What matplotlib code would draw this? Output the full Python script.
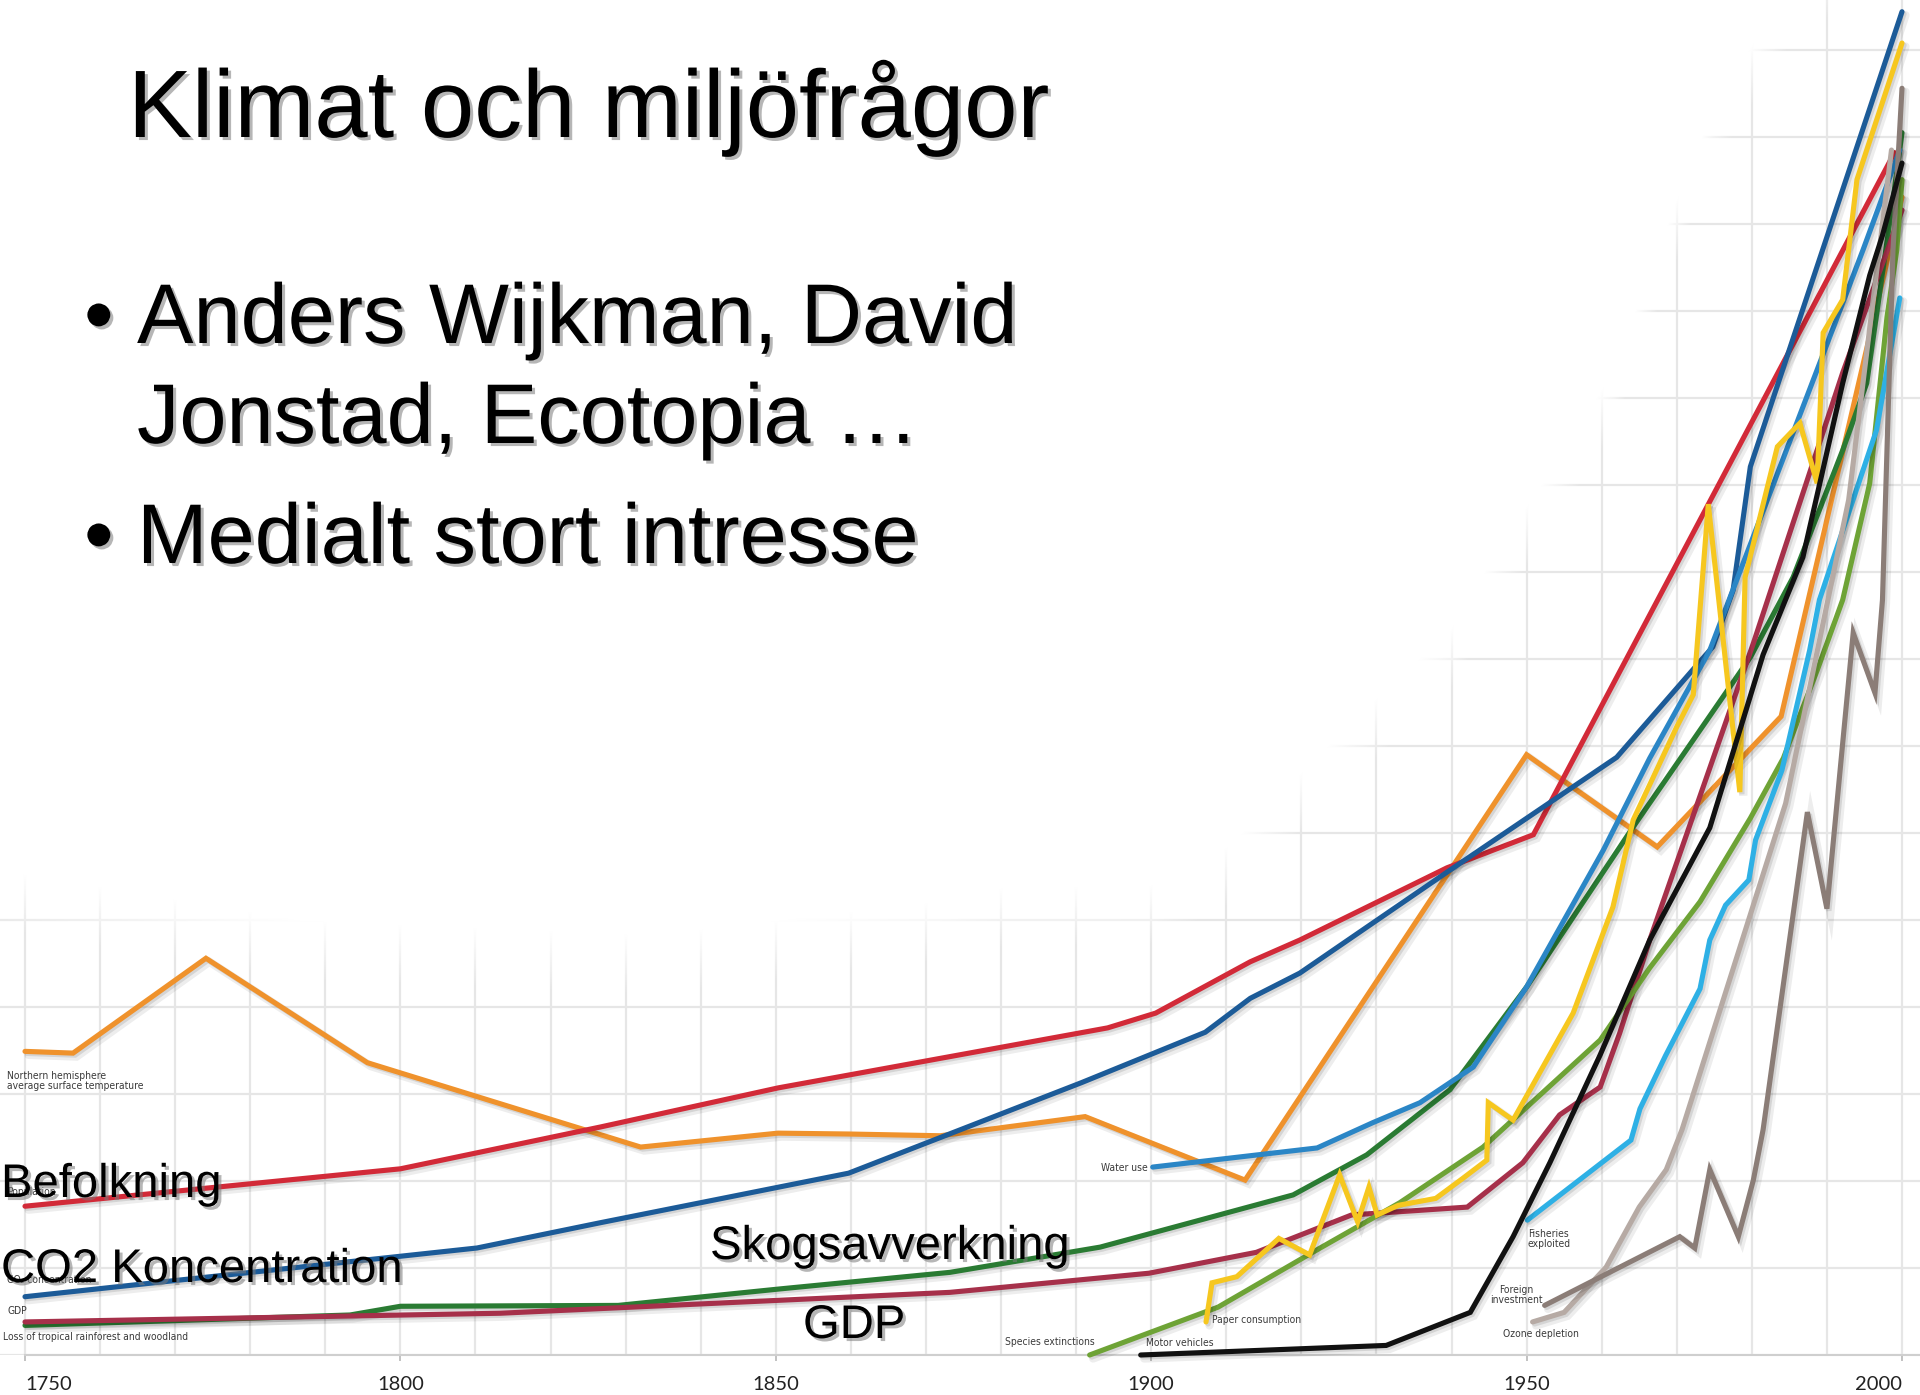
import os
import numpy as np
import matplotlib
matplotlib.use("Agg")
import matplotlib.pyplot as plt
import matplotlib.patheffects as pe
from matplotlib import font_manager as fm

# ---------------- data (year, index value) ----------------
temp_years = [1750, 1756.4, 1774.1, 1795.6, 1832.0, 1850.3, 1859.7, 1871.9, 1891.2, 1912.5, 1950.0, 1967.4, 1983.9, 2000.0]
temp_vals = [34.9, 34.7, 45.6, 33.6, 23.9, 25.5, 25.4, 25.2, 27.4, 20.1, 69.0, 58.4, 73.4, 133.1]

pop_years = [1750, 1800, 1826.6, 1850.3, 1894.2, 1900.6, 1913.2, 1919.8, 1939.4, 1950.9, 1999.0]
pop_vals = [17.1, 21.4, 26.2, 30.7, 37.6, 39.3, 45.2, 47.7, 56.0, 59.8, 138.2]

co2_years = [1750, 1810.2, 1826.6, 1859.7, 1890.7, 1907.2, 1913.2, 1919.8, 1939.4, 1962.0, 1974.8, 1977.5, 1979.8, 2000.0]
co2_vals = [6.7, 12.3, 15.2, 20.9, 31.3, 37.1, 41.0, 43.9, 55.5, 68.7, 81.4, 87.9, 102.1, 154.4]

forest_years = [1750, 1793.3, 1800, 1829.0, 1850.6, 1873.2, 1893.2, 1918.9, 1928.7, 1939.8, 1950.0, 1964.2, 1979.8, 1985.5, 1992.1, 1995.3, 1998.8, 2000.0]
forest_vals = [3.4, 4.6, 5.6, 5.7, 7.6, 9.5, 12.4, 18.4, 23.0, 30.5, 42.3, 60.7, 80.2, 89.4, 104.0, 111.7, 132.8, 140.5]

gdp_years = [1750, 1813.3, 1873.2, 1899.7, 1914.0, 1926.7, 1942.1, 1949.5, 1954.4, 1959.8, 1962.4, 1966.4, 1980.2, 1992.1, 2000.0]
gdp_vals = [3.8, 4.8, 7.2, 9.4, 11.8, 16.1, 17.0, 22.1, 27.6, 30.8, 37.0, 47.7, 81.8, 112.9, 131.6]

water_years = [1900.2, 1922.1, 1929.5, 1935.8, 1942.9, 1950.0, 1960.2, 1966.4, 1974.4, 1994.8, 1999.7]
water_vals = [21.6, 23.8, 26.7, 29.0, 33.1, 42.3, 58.0, 68.6, 81.0, 127.0, 138.5]

paper_years = [1907.3, 1908.1, 1911.4, 1917.0, 1921.1, 1925.1, 1927.5, 1929.0, 1930.1, 1932.9, 1937.9, 1941.5,
               1944.7, 1944.9, 1948.2, 1956.2, 1961.5, 1964.2, 1970.0, 1972.2, 1974.2, 1978.4, 1979.1, 1983.4,
               1986.4, 1988.7, 1989.5, 1992.1, 1994.0, 2000.0]
paper_vals = [3.8, 8.3, 9.0, 13.4, 11.5, 20.7, 15.3, 19.3, 16.1, 17.2, 18.0, 20.3,
              22.4, 29.0, 27.0, 39.3, 51.5, 61.5, 72.2, 75.9, 97.8, 64.7, 89.4, 104.4,
              107.1, 100.2, 117.5, 121.3, 135.1, 150.8]

species_years = [1891.8, 1908.9, 1922.1, 1933.1, 1944.2, 1959.8, 1966.4, 1973.1, 1979.8, 1984.2, 1988.7, 1992.1, 1995.7, 1998.0, 1999.3, 2000.0]
species_vals = [0.0, 5.5, 12.1, 17.5, 23.9, 36.2, 44.5, 52.1, 61.7, 68.6, 78.7, 86.8, 100.2, 119.3, 127.0, 135.1]

motor_years = [1898.6, 1931.3, 1942.5, 1948.2, 1953.1, 1959.8, 1966.4, 1974.4, 1981.5, 1986.8, 1992.1, 1995.7, 1997.4, 2000.0]
motor_vals = [0.0, 1.1, 4.9, 13.6, 22.1, 34.5, 47.7, 60.6, 80.5, 91.7, 111.7, 124.1, 128.7, 137.0]

fish_years = [1950.1, 1963.9, 1965.1, 1968.5, 1973.1, 1974.4, 1976.5, 1979.6, 1980.5, 1984.0, 1987.7, 1989.0, 1996.6, 1999.7]
fish_vals = [15.5, 24.7, 28.3, 34.4, 42.1, 47.7, 51.7, 54.6, 59.2, 67.2, 81.0, 86.8, 106.3, 121.5]

ozone_years = [1950.8, 1955.0, 1960.6, 1965.0, 1968.6, 1970.7, 1984.5, 1992.9, 1998.6]
ozone_vals = [3.8, 4.9, 10.1, 17.0, 21.3, 25.9, 63.4, 98.3, 138.5]

invest_years = [1952.4, 1970.4, 1972.4, 1974.4, 1978.2, 1980.2, 1981.5, 1987.4, 1990.0, 1993.5, 1996.4, 1997.4, 1998.8, 2000.0]
invest_vals = [5.7, 13.6, 12.3, 21.3, 13.6, 20.1, 25.9, 62.4, 51.3, 83.0, 76.1, 86.8, 127.0, 145.6]

tick_years = [1750, 1800, 1850, 1900, 1950, 2000]
tick_labels = ["1750", "1800", "1850", "1900", "1950", "2000"]

# ---------------- condensed font for the small chart labels ----------------
def pick_condensed():
    files = [f.fname for f in fm.fontManager.ttflist]
    prefs = ["DejaVuSansCondensed.ttf", "LiberationSansNarrow-Regular.ttf",
             "NotoSans-Condensed.ttf", "NotoSans-CondensedRegular.ttf",
             "OpenSans-CondensedRegular.ttf", "OpenSans_Condensed-Regular.ttf",
             "Roboto-Condensed.ttf", "RobotoCondensed-Regular.ttf"]
    for p in prefs:
        for f in files:
            if os.path.basename(f) == p:
                return fm.FontProperties(fname=f)
    bad = ("Bold", "Italic", "Oblique", "Extra", "Semi", "Light", "Black", "Thin", "Medium", "Ultra")
    for f in files:
        b = os.path.basename(f)
        if ("Condensed" in b or "Narrow" in b) and not any(x in b for x in bad):
            return fm.FontProperties(fname=f)
    return fm.FontProperties(family=["Liberation Sans", "DejaVu Sans"])


SMALL_FP = pick_condensed()

# ---------------- figure ----------------
W, H, DPI = 1920, 1395, 100
AX_H = 1355
fig = plt.figure(figsize=(W / DPI, H / DPI), dpi=DPI)
fig.patch.set_facecolor("white")
ax = fig.add_axes([0, (H - AX_H) / H, 1, AX_H / H])

PX_PER_YEAR = 7.508
X0 = 1750 - 25 / PX_PER_YEAR
X1 = X0 + W / PX_PER_YEAR
YMAX = AX_H / 8.7

series = [
    (temp_years, temp_vals, "#ef922c"),
    (pop_years, pop_vals, "#d22a38"),
    (co2_years, co2_vals, "#1c5b98"),
    (forest_years, forest_vals, "#2a7b33"),
    (gdp_years, gdp_vals, "#a6304a"),
    (water_years, water_vals, "#2b86c6"),
    (species_years, species_vals, "#6ea336"),
    (paper_years, paper_vals, "#f6c71f"),
    (fish_years, fish_vals, "#2eb0e5"),
    (ozone_years, ozone_vals, "#b6aaa4"),
    (invest_years, invest_vals, "#8b7d77"),
    (motor_years, motor_vals, "#111111"),
]

shadow = [pe.SimpleLineShadow(offset=(2.5, -2.5), shadow_color="k", alpha=0.07, linewidth=6),
          pe.SimpleLineShadow(offset=(1.5, -1.5), shadow_color="k", alpha=0.10),
          pe.Normal()]
for i, (xs, ys, c) in enumerate(series):
    ax.plot(xs, ys, color=c, lw=3.7, solid_joinstyle="miter", solid_capstyle="round",
            zorder=3 + i * 0.01, clip_on=False, path_effects=shadow)

# grid
ax.set_xticks(np.arange(1750, 2001, 10), minor=True)
ax.set_yticks(np.arange(0, 151, 10))
ax.set_xticks(tick_years)
ax.set_xticklabels(tick_labels)
ax.grid(True, which="both", color="#e6e6e6", lw=1.6)
ax.set_axisbelow(True)
ax.tick_params(axis="y", length=0, labelleft=False)
ax.tick_params(axis="x", which="minor", length=0)
ax.tick_params(axis="x", which="major", length=4, width=1.2, color="#b8b8b8", pad=11,
               labelsize=14.5, labelcolor="#222222")
for lab in ax.get_xticklabels():
    lab.set_fontfamily(["Lato", "DejaVu Sans"])
labs = ax.get_xticklabels()
labs[0].set_ha("left")
labs[-1].set_ha("right")
for s in ["top", "left", "right"]:
    ax.spines[s].set_visible(False)
ax.spines["bottom"].set_color("#cfcfcf")
ax.spines["bottom"].set_linewidth(1.5)
ax.spines["bottom"].set_bounds(1750, X1)

# white fade over the top-left of the chart (grid hidden there)
bx = [0, 300, 650, 950, 1000, 1150, 1230, 1353, 1450, 1500, 1560, 1613, 1677, 1713, 1767, 1800, 1920]
by = [900, 950, 965, 930, 918, 915, 875, 750, 660, 575, 487, 400, 228, 138, 50, 0, -50]
xp = np.arange(W)
yp = np.arange(AX_H)
yb = np.interp(xp, bx, by)
alpha = np.clip((yb[None, :] - yp[:, None]) / 60.0 + 0.5, 0, 1)
rgba = np.ones((AX_H, W, 4))
rgba[..., 3] = alpha
ax.imshow(rgba, extent=(X0, X1, 0, YMAX), aspect="auto", zorder=1, origin="upper",
          interpolation="bilinear")
ax.set_xlim(X0, X1)
ax.set_ylim(0, YMAX)


def ftext(x, y, s, **kw):
    return fig.text(x / W, 1 - y / H, s, **kw)


# size the small labels so that the longest one spans its width in the reference (~185 px)
renderer = fig.canvas.get_renderer()
probe = ftext(0, 0, "Loss of tropical rainforest and woodland", fontproperties=SMALL_FP, fontsize=10)
pw = probe.get_window_extent(renderer).width
probe.remove()
SMALL_SIZE = float(np.clip(10 * 185.0 / pw, 6.5, 10.5))

small = dict(fontproperties=SMALL_FP, fontsize=SMALL_SIZE, color="#3a3a3a", zorder=5)
ftext(7, 1081, "Northern hemisphere\naverage surface temperature", va="center", ha="left", linespacing=1.05, **small)
ftext(7, 1192, "Population", va="center", ha="left", **small)
ftext(7, 1280, "CO\u2082 concentration", va="center", ha="left", **small)
ftext(7, 1311, "GDP", va="center", ha="left", **small)
ftext(3, 1337, "Loss of tropical rainforest and woodland", va="center", ha="left", **small)
ftext(1148, 1168, "Water use", va="center", ha="right", **small)
ftext(1212, 1320, "Paper consumption", va="center", ha="left", **small)
ftext(1005, 1342, "Species extinctions", va="center", ha="left", **small)
ftext(1146, 1343, "Motor vehicles", va="center", ha="left", **small)
ftext(1528, 1239, "Fisheries\nexploited", va="center", ha="left", linespacing=1.05, **small)
ftext(1516, 1295, "Foreign\ninvestment", va="center", ha="center", multialignment="center", linespacing=1.05, **small)
ftext(1503, 1334, "Ozone depletion", va="center", ha="left", **small)

# slide texts
tshadow = [pe.withSimplePatchShadow(offset=(2.2, -2.2), shadow_rgbFace="#7a7a7a", alpha=0.55)]
big = dict(family=["Liberation Sans", "DejaVu Sans"], color="black", va="baseline", ha="left",
           path_effects=tshadow, zorder=10)
ftext(128, 137, "Klimat och miljöfrågor", fontsize=69, **big)
ftext(84, 343, "\u2022", fontsize=61, **big)
ftext(137, 343, "Anders Wijkman, David", fontsize=61, **big)
ftext(137, 443, "Jonstad, Ecotopia \u2026", fontsize=61, **big)
ftext(84, 563, "\u2022", fontsize=61, **big)
ftext(137, 563, "Medialt stort intresse", fontsize=61, **big)

lab = dict(family=["Liberation Sans", "DejaVu Sans"], color="black", va="baseline", ha="left",
           path_effects=tshadow, zorder=10, fontsize=34)
ftext(1, 1197, "Befolkning", **lab)
ftext(1, 1282, "CO2 Koncentration", **lab)
ftext(710, 1259, "Skogsavverkning", **lab)
ftext(803, 1338, "GDP", **lab)

fig.savefig("out.png", dpi=DPI, facecolor="white")
